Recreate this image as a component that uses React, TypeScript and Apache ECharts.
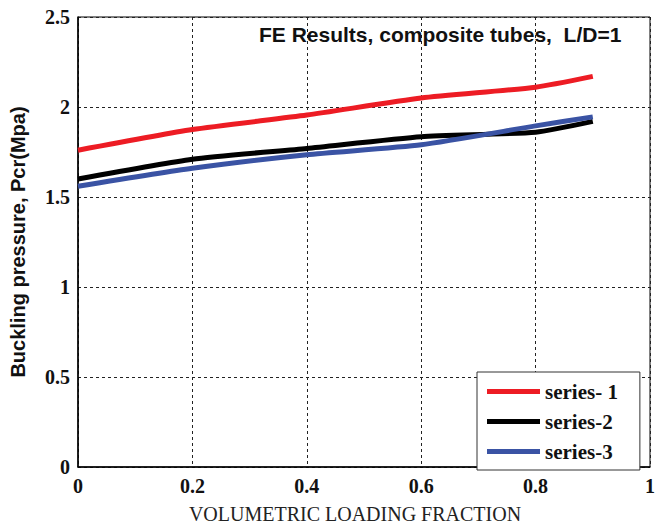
import React, { useEffect, useRef } from "react";
import * as echarts from "echarts";

const xValues = [0, 0.2, 0.4, 0.6, 0.8, 0.9];
const series1 = [1.76, 1.875, 1.955, 2.05, 2.11, 2.17];
const series2 = [1.6, 1.71, 1.77, 1.835, 1.86, 1.92];
const series3 = [1.56, 1.66, 1.735, 1.79, 1.895, 1.945];
const seriesNames = ["series- 1", "series-2", "series-3"];
const seriesColors = ["#ED1C24", "#000000", "#3A53A4"];
const xTicks = ["0", "0.2", "0.4", "0.6", "0.8", "1"];
const yTicks = ["0", "0.5", "1", "1.5", "2", "2.5"];

export default function App() {
  const ref = useRef<HTMLDivElement>(null);
  useEffect(() => {
    if (!ref.current) return;
    const chart = echarts.init(ref.current, undefined, { renderer: "svg" });
    const serif = "'Liberation Serif', 'Times New Roman', serif";
    const sans = "'Liberation Sans', Arial, sans-serif";
    const data = [series1, series2, series3];
    chart.setOption({
      animation: false,
      backgroundColor: "#fff",
      title: {
        text: "FE Results, composite tubes,  L/D=1",
        left: 259,
        top: 24,
        padding: 0,
        textStyle: { fontFamily: sans, fontWeight: "bold", fontSize: 21, color: "#111" },
      },
      grid: {
        left: 76,
        right: 3,
        top: 17,
        bottom: 53,
        show: true,
        borderColor: "#000",
        borderWidth: 1,
        backgroundColor: "transparent",
      },
      legend: {
        orient: "vertical",
        left: 477,
        top: 372,
        padding: [9, 22, 8, 10],
        itemGap: 9,
        itemWidth: 53,
        itemHeight: 5,
        icon: "rect",
        backgroundColor: "#fff",
        borderColor: "#333",
        borderWidth: 1,
        borderRadius: 0,
        data: seriesNames,
        textStyle: { fontFamily: serif, fontWeight: "bold", fontSize: 21, color: "#111" },
      },
      xAxis: {
        type: "value",
        min: 0,
        max: 1,
        interval: 0.2,
        name: "VOLUMETRIC LOADING FRACTION",
        nameLocation: "middle",
        nameGap: 37,
        nameTextStyle: { fontFamily: serif, fontSize: 20, color: "#222", padding: [0, 18, 0, 0] },
        axisLine: { show: true, lineStyle: { color: "#000", width: 1.5 } },
        axisTick: { show: false },
        axisLabel: {
          margin: 9,
          fontFamily: serif,
          fontWeight: "bold",
          fontSize: 20,
          color: "#111",
          formatter: (v: number) => xTicks[Math.round(v / 0.2)],
        },
        splitLine: { show: true, lineStyle: { color: "#222", type: [3, 3], width: 1 } },
      },
      yAxis: {
        type: "value",
        min: 0,
        max: 2.5,
        interval: 0.5,
        name: "Buckling pressure, Pcr(Mpa)",
        nameLocation: "middle",
        nameGap: 50,
        nameTextStyle: { fontFamily: sans, fontWeight: "bold", fontSize: 20, color: "#111" },
        axisLine: { show: true, lineStyle: { color: "#000", width: 1.5 } },
        axisTick: { show: false },
        axisLabel: {
          margin: 8,
          fontFamily: serif,
          fontWeight: "bold",
          fontSize: 20,
          color: "#111",
          formatter: (v: number) => yTicks[Math.round(v / 0.5)],
        },
        splitLine: { show: true, lineStyle: { color: "#222", type: [3, 3], width: 1 } },
      },
      series: seriesNames.map((name, i) => ({
        name,
        type: "line",
        smooth: 0.2,
        symbol: "none",
        color: seriesColors[i],
        lineStyle: { width: 5, color: seriesColors[i] },
        data: xValues.map((x, j) => [x, data[i][j]]),
      })),
    });
    return () => chart.dispose();
  }, []);
  return (
    <div
      ref={ref}
      style={{ position: "fixed", left: 0, top: 0, width: 658, height: 529 }}
    />
  );
}
